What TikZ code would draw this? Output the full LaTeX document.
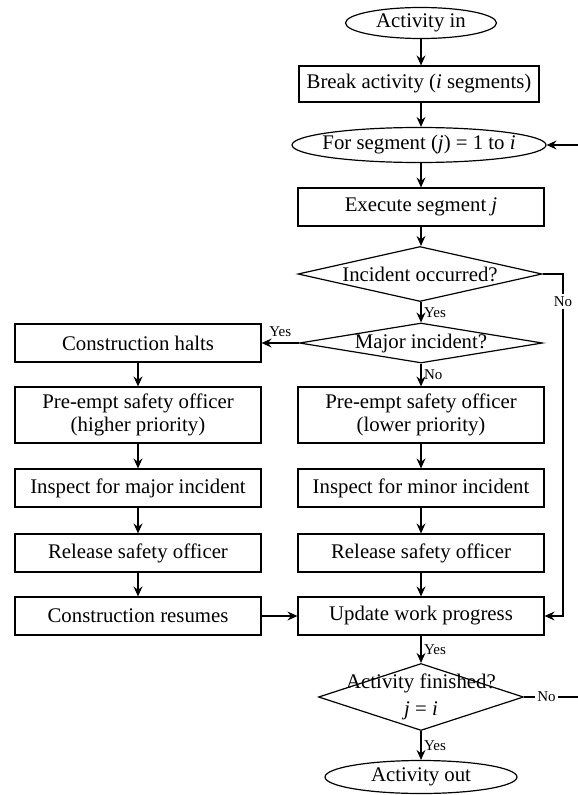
\documentclass[tikz,border=0pt]{standalone}
\usepackage{fontspec}
\setmainfont{Liberation Serif}
\usetikzlibrary{shapes.geometric,arrows.meta}

\begin{document}
\begin{tikzpicture}[x=1pt,y=-1pt,
	font=\fontsize{20.8}{23}\selectfont,
	line width=1.2pt,
	>={Stealth[length=10pt,width=9pt,inset=3.5pt]},
	process/.style={draw, rectangle, inner sep=0pt, minimum width=246pt, minimum height=38pt, align=center},
	terminal/.style={draw, ellipse, inner sep=0pt},
	decision/.style={draw, diamond, inner sep=0pt},
	tag/.style={font=\fontsize{15}{17}\selectfont, inner sep=2.5pt}]
	\useasboundingbox (0,0) rectangle (578,795);

	% main column
	\node[terminal, minimum width=151pt, minimum height=31pt] (actin) at (421,23) {Activity in};
	\node[process, minimum width=240pt, minimum height=36pt] (break) at (419,84) {Break activity (\textit{i} segments)};
	\node[terminal, minimum width=254pt, minimum height=35pt, label=center:{For segment (\textit{j}) = 1 to \textit{i}}] (loop) at (419,145) {};
	\node[process] (exec) at (421,207) {Execute segment \textit{j}};
	\node[decision, minimum width=244pt, minimum height=55pt, label=center:{Incident occurred?}] (incident) at (420,274) {};
	\node[decision, minimum width=243pt, minimum height=40pt, label=center:{Major incident?}] (major) at (421,343) {};

	% major incident branch
	\node[process] (halt) at (138,343) {Construction halts};
	\node[process, minimum height=56pt] (prehigh) at (138,415) {Pre-empt safety officer\\(higher priority)};
	\node[process] (inspmajor) at (138,488) {Inspect for major incident};
	\node[process] (relhigh) at (138,553) {Release safety officer};
	\node[process] (resume) at (138,616) {Construction resumes};

	% minor incident branch
	\node[process, minimum height=56pt] (prelow) at (421,415) {Pre-empt safety officer\\(lower priority)};
	\node[process] (inspminor) at (421,488) {Inspect for minor incident};
	\node[process] (rellow) at (421,553) {Release safety officer};
	\node[process] (update) at (421,616) {Update work progress};

	\node[decision, minimum width=205pt, minimum height=67pt,
		label={[align=center, font=\fontsize{20.8}{27}\selectfont]center:Activity finished?\\\textit{j} = \textit{i}}] (finish) at (421,697) {};
	\node[terminal, minimum width=192pt, minimum height=33pt] (actout) at (421,777) {Activity out};

	\coordinate (noturn) at (563,274);
	\coordinate (backturn) at (580,697);

	\draw[->] (actin) -- (break.north -| actin);
	\draw[->] (break.south -| actin) -- (loop.north -| actin);
	\draw[->] (loop.south -| actin) -- (exec);
	\draw[->] (exec) -- (incident.north -| exec);
	\draw[->] (incident.south -| exec) -- node[tag, right] {Yes} (major);
	\draw[->] (major) -- node[tag, right] {No} (prelow);
	\draw[->] (major.west) -- node[tag, above, yshift=3pt] {Yes} (halt.east);
	\draw[->] (halt) -- (prehigh);
	\draw[->] (prehigh) -- (inspmajor);
	\draw[->] (inspmajor) -- (relhigh);
	\draw[->] (relhigh) -- (resume);
	\draw[->] (prelow) -- (inspminor);
	\draw[->] (inspminor) -- (rellow);
	\draw[->] (rellow) -- (update);
	\draw[->] (resume) -- (update);
	\draw[->] (incident.east) -- (noturn) -- node[tag, fill=white, pos=0.08] {No} (noturn |- update.east) -- (update.east);
	\draw[->] (update) -- node[tag, right] {Yes} (finish);
	\draw[->] (finish) -- node[tag, right] {Yes} (actout);
	\draw[->] (finish.east) -- node[tag, fill=white, pos=0.4] {No} (backturn) -- (backturn |- loop.east) -- (loop.east);
\end{tikzpicture}
\end{document}
